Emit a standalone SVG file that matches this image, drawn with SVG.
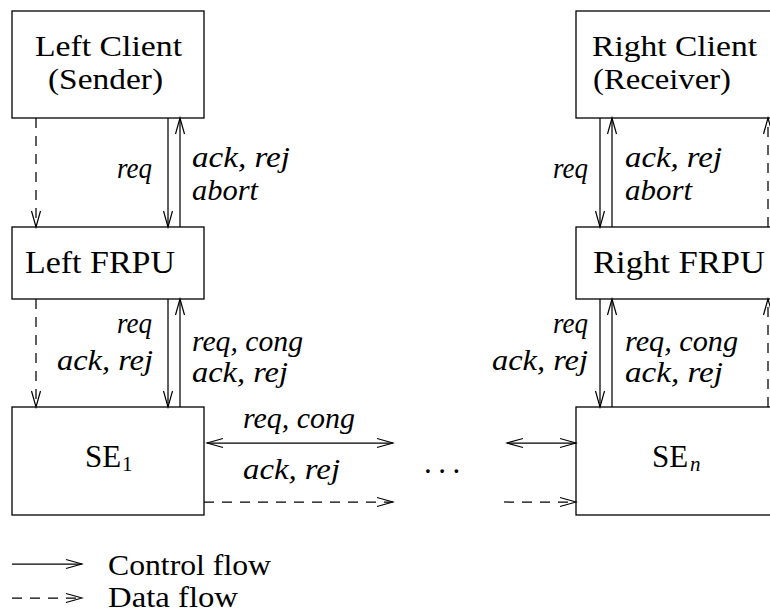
<svg xmlns="http://www.w3.org/2000/svg" width="770" height="614" viewBox="0 0 770 614">
  <style>
    .box { fill: #fff; stroke: #000; stroke-width: 1.3; }
    .rm { font-family: "Liberation Serif", "DejaVu Serif", serif; font-size: 31px; fill: #000; }
    .rm2 { font-family: "Liberation Serif", "DejaVu Serif", serif; font-size: 29px; fill: #000; }
    .it { font-family: "Liberation Serif", "DejaVu Serif", serif; font-style: italic; font-size: 29px; fill: #000; }
    .sub { font-family: "Liberation Serif", "DejaVu Serif", serif; font-size: 21px; fill: #000; }
    .c { fill: none; stroke: #000; stroke-width: 1.25; }
    .d { stroke-dasharray: 10 8; }
  </style>
  <defs>
    <marker id="ah" viewBox="-18 -7 20 14" refX="0" refY="0" markerWidth="20" markerHeight="14" markerUnits="userSpaceOnUse" orient="auto-start-reverse">
      <path d="M-16,-4.5 L0,0 L-16,4.5" fill="none" stroke="#000" stroke-width="1.2" stroke-dasharray="none"/>
    </marker>
  </defs>
  <rect width="770" height="614" fill="#fff"/>

  <g id="left-client">
    <rect class="box" x="12" y="11" width="192" height="107"/>
    <text class="rm2" x="35" y="56" textLength="147" lengthAdjust="spacingAndGlyphs">Left Client</text>
    <text class="rm2" x="48" y="89" textLength="115" lengthAdjust="spacingAndGlyphs">(Sender)</text>
  </g>
  <g id="right-client">
    <rect class="box" x="576" y="11" width="230" height="107"/>
    <text class="rm2" x="592" y="56" textLength="165" lengthAdjust="spacingAndGlyphs">Right Client</text>
    <text class="rm2" x="593" y="89" textLength="138" lengthAdjust="spacingAndGlyphs">(Receiver)</text>
  </g>
  <g id="left-frpu">
    <rect class="box" x="12" y="227" width="192" height="72"/>
    <text class="rm" x="25" y="273" textLength="150" lengthAdjust="spacingAndGlyphs">Left FRPU</text>
  </g>
  <g id="right-frpu">
    <rect class="box" x="576" y="227" width="230" height="72"/>
    <text class="rm" x="593" y="273" textLength="172" lengthAdjust="spacingAndGlyphs">Right FRPU</text>
  </g>
  <g id="se1">
    <rect class="box" x="12" y="407" width="192" height="108"/>
    <text class="rm" x="85" y="467">SE</text>
    <text class="sub" x="122" y="471">1</text>
  </g>
  <g id="sen">
    <rect class="box" x="576" y="407" width="230" height="108"/>
    <text class="rm" x="652" y="467">SE</text>
    <text class="sub" x="690" y="471" font-style="italic">n</text>
  </g>

  <g id="connectors">
    <line class="c d" x1="36" y1="118" x2="36" y2="227" marker-end="url(#ah)"/>
    <line class="c" x1="168" y1="118" x2="168" y2="227" marker-end="url(#ah)"/>
    <line class="c" x1="180" y1="227" x2="180" y2="118" marker-end="url(#ah)"/>
    <line class="c d" x1="36" y1="299" x2="36" y2="407" marker-end="url(#ah)"/>
    <line class="c" x1="168" y1="299" x2="168" y2="407" marker-end="url(#ah)"/>
    <line class="c" x1="180" y1="407" x2="180" y2="299" marker-end="url(#ah)"/>
    <line class="c" x1="600" y1="118" x2="600" y2="227" marker-end="url(#ah)"/>
    <line class="c" x1="612" y1="227" x2="612" y2="118" marker-end="url(#ah)"/>
    <line class="c d" x1="768" y1="227" x2="768" y2="118" marker-end="url(#ah)"/>
    <line class="c" x1="600" y1="299" x2="600" y2="407" marker-end="url(#ah)"/>
    <line class="c" x1="612" y1="407" x2="612" y2="299" marker-end="url(#ah)"/>
    <line class="c d" x1="768" y1="407" x2="768" y2="299" marker-end="url(#ah)"/>
    <line class="c" x1="207" y1="443" x2="393" y2="443" marker-start="url(#ah)" marker-end="url(#ah)"/>
    <line class="c d" x1="204" y1="502" x2="393" y2="502" marker-end="url(#ah)"/>
    <line class="c" x1="507" y1="443" x2="576" y2="443" marker-start="url(#ah)" marker-end="url(#ah)"/>
    <line class="c d" x1="504" y1="502" x2="576" y2="502" marker-end="url(#ah)"/>
  </g>

  <g id="labels">
    <text class="it" x="117" y="178" textLength="35" lengthAdjust="spacingAndGlyphs">req</text>
    <text class="it" x="192" y="167" textLength="98" lengthAdjust="spacingAndGlyphs">ack, rej</text>
    <text class="it" x="192" y="200" textLength="66" lengthAdjust="spacingAndGlyphs">abort</text>
    <text class="it" x="117" y="333" textLength="35" lengthAdjust="spacingAndGlyphs">req</text>
    <text class="it" x="57" y="370" textLength="96" lengthAdjust="spacingAndGlyphs">ack, rej</text>
    <text class="it" x="192" y="351" textLength="111" lengthAdjust="spacingAndGlyphs">req, cong</text>
    <text class="it" x="192" y="382" textLength="96" lengthAdjust="spacingAndGlyphs">ack, rej</text>

    <text class="it" x="553" y="178" textLength="35" lengthAdjust="spacingAndGlyphs">req</text>
    <text class="it" x="625" y="167" textLength="97" lengthAdjust="spacingAndGlyphs">ack, rej</text>
    <text class="it" x="625" y="200" textLength="67" lengthAdjust="spacingAndGlyphs">abort</text>
    <text class="it" x="553" y="333" textLength="35" lengthAdjust="spacingAndGlyphs">req</text>
    <text class="it" x="492" y="370" textLength="96" lengthAdjust="spacingAndGlyphs">ack, rej</text>
    <text class="it" x="625" y="351" textLength="113" lengthAdjust="spacingAndGlyphs">req, cong</text>
    <text class="it" x="625" y="382" textLength="98" lengthAdjust="spacingAndGlyphs">ack, rej</text>

    <text class="it" x="243" y="428" textLength="112" lengthAdjust="spacingAndGlyphs">req, cong</text>
    <text class="it" x="243" y="479" textLength="97" lengthAdjust="spacingAndGlyphs">ack, rej</text>
    <text class="rm" x="424" y="473" letter-spacing="6.5">...</text>
  </g>

  <g id="legend">
    <line class="c" x1="12" y1="564" x2="82" y2="564" marker-end="url(#ah)"/>
    <line class="c d" x1="12" y1="598" x2="82" y2="598" marker-end="url(#ah)"/>
    <text class="rm2" x="108" y="575" textLength="163" lengthAdjust="spacingAndGlyphs">Control flow</text>
    <text class="rm2" x="108" y="607" textLength="130" lengthAdjust="spacingAndGlyphs">Data flow</text>
  </g>
</svg>
